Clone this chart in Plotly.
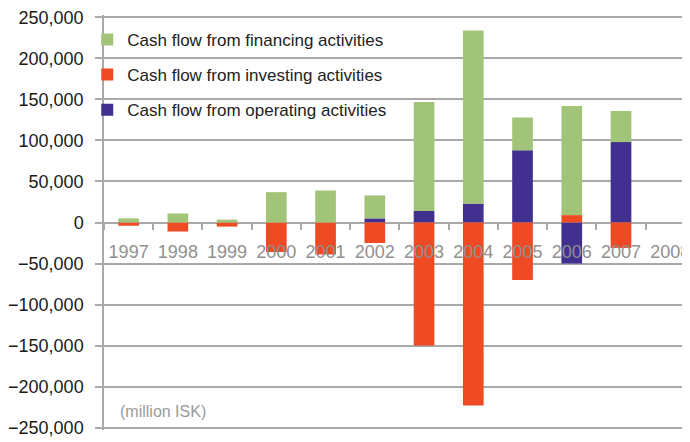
import plotly.graph_objects as go

years = ['1997', '1998', '1999', '2000', '2001', '2002', '2003', '2004', '2005', '2006', '2007', '2008']
operating = [0, 0, 0, 0, 0, 5000, 14000, 23000, 88000, -50000, 98000, None]
investing = [-4000, -11000, -5000, -36000, -39000, -25000, -150000, -223000, -70000, 9000, -31000, None]
financing = [5000, 11000, 3500, 37000, 39000, 28000, 133000, 211000, 40000, 133000, 38000, None]

y_ticks = [-250000, -200000, -150000, -100000, -50000, 0, 50000, 100000, 150000, 200000, 250000]

FONT = "Liberation Sans, Arial, sans-serif"
GRID = "#a9a9a9"

# page body has an 8px margin; the figure is sized so it fits the 690x442 window
W, H = 682, 434
L, R, T, B = 91, 0, 3, 11.7
PW, PH = W - L - R, H - T - B


def px(wx):
    return (wx - 8 - L) / PW


def py(wy):
    return (H - B - (wy - 8)) / PH


fig = go.Figure()
fig.add_trace(go.Bar(x=years, y=operating, name="Cash flow from operating activities",
                     marker=dict(color="#423091", line=dict(width=0)),
                     legendgroup="o", legendrank=3))
fig.add_trace(go.Bar(x=years, y=investing, name="Cash flow from investing activities",
                     marker=dict(color="#EE4A24", line=dict(width=0)),
                     legendgroup="i", legendrank=2))
fig.add_trace(go.Bar(x=years, y=financing, name="Cash flow from financing activities",
                     marker=dict(color="#A2C478", line=dict(width=0)),
                     legendgroup="f", legendrank=1))

# white panel behind legend covering gridlines
fig.add_shape(type="rect", xref="paper", yref="paper",
              x0=px(107), x1=px(388), y0=py(125), y1=py(18),
              fillcolor="white", line=dict(width=0), layer="between")

fig.add_annotation(text="(million ISK)", xref="paper", yref="paper",
                   x=px(113), y=py(412), xanchor="left", yanchor="middle",
                   showarrow=False, font=dict(family=FONT, size=16, color="#9a9a9a"))

fig.update_layout(
    width=W, height=H,
    margin=dict(l=L, r=R, t=T, b=B),
    paper_bgcolor="white", plot_bgcolor="white",
    barmode="relative", bargap=0.58,
    showlegend=True,
    legend=dict(x=px(82), y=py(18), xanchor="left", yanchor="top",
                bgcolor="rgba(0,0,0,0)", borderwidth=0,
                traceorder="grouped", tracegroupgap=10,
                font=dict(family=FONT, size=17, color="#222222")),
    xaxis=dict(type="category", range=[-0.5, 11.32], anchor="free", position=0.5,
               showgrid=False, showline=False, zeroline=False,
               ticks="outside", tickson="boundaries", ticklen=6, tickwidth=1.5, tickcolor=GRID,
               tickangle=0, ticklabelstandoff=16,
               tickfont=dict(family=FONT, size=18, color="#909090")),
    yaxis=dict(range=[-253000, 253000], tickvals=y_ticks, tickformat=",",
               ticklabeloverflow="allow",
               showgrid=True, gridcolor=GRID, gridwidth=1.5,
               zeroline=True, zerolinecolor=GRID, zerolinewidth=1.5,
               showline=True, linecolor=GRID, linewidth=1.5,
               ticks="outside", ticklen=7, tickwidth=1.5, tickcolor=GRID,
               ticklabelstandoff=8,
               tickfont=dict(family=FONT, size=18, color="#1a1a1a")),
)

fig.write_html("out.html")
